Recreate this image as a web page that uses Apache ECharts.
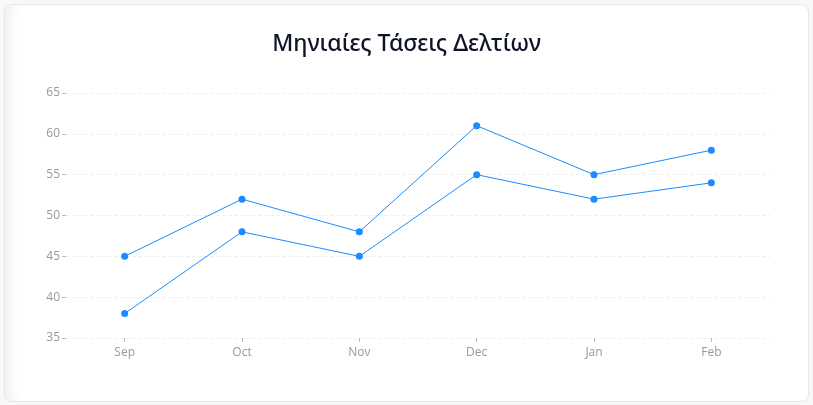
<!DOCTYPE html>
<html>
<head>
<meta charset="utf-8">
<script src="https://cdn.jsdelivr.net/npm/echarts@6/dist/echarts.min.js"></script>
<style>
  html, body { margin: 0; padding: 0; background: #f7f8fa; width: 813px; height: 405px; overflow: hidden; }
  #card { position: absolute; left: 4px; top: 4px; width: 805px; height: 398px; background: #fff;
          border: 1px solid #e3e6ec; border-radius: 8px; box-sizing: border-box;
          box-shadow: inset 16px 0 14px -12px rgba(0,0,0,0.07); }
  #chart { position: absolute; left: 0; top: 0; width: 813px; height: 405px; }
</style>
</head>
<body>
<div id="card"></div>
<div id="chart"></div>
<script>
const categories = ['Sep', 'Oct', 'Nov', 'Dec', 'Jan', 'Feb'];
const seriesUpper = [45, 52, 48, 61, 55, 58];
const seriesLower = [38, 48, 45, 55, 52, 54];
const yMin = 35, yMax = 65, yStep = 5;

const chart = echarts.init(document.getElementById('chart'), null, { renderer: 'canvas' });
const lineStyleCommon = { color: '#1a8cff', width: 1 };
chart.setOption({
  animation: false,
  title: {
    text: 'Μηνιαίες Τάσεις Δελτίων',
    left: 'center',
    top: 28,
    textStyle: { fontFamily: 'Noto Sans', fontSize: 23, fontWeight: 500, color: '#0f1428' }
  },
  grid: { left: 66, right: 43, top: 93, bottom: 67 },
  xAxis: {
    type: 'category',
    data: categories,
    boundaryGap: true,
    axisLine: { show: false },
    axisTick: { show: true, alignWithLabel: true, length: 4, lineStyle: { color: '#bbb' } },
    axisLabel: { color: '#999', fontSize: 12, fontFamily: 'Open Sans', margin: 9 },
    splitLine: { show: false }
  },
  yAxis: {
    type: 'value',
    min: yMin, max: yMax, interval: yStep,
    axisLine: { show: false },
    axisTick: { show: true, length: 4, lineStyle: { color: '#bbb' } },
    axisLabel: { color: '#999', fontSize: 12, fontFamily: 'Open Sans', margin: 6 },
    splitLine: { show: true, lineStyle: { type: 'dashed', color: '#f0f0f0' } }
  },
  series: [
    { type: 'line', data: seriesUpper, symbol: 'circle', symbolSize: 7,
      itemStyle: { color: '#1a8cff' }, lineStyle: lineStyleCommon },
    { type: 'line', data: seriesLower, symbol: 'circle', symbolSize: 7,
      itemStyle: { color: '#1a8cff' }, lineStyle: lineStyleCommon }
  ]
});
</script>
</body>
</html>
